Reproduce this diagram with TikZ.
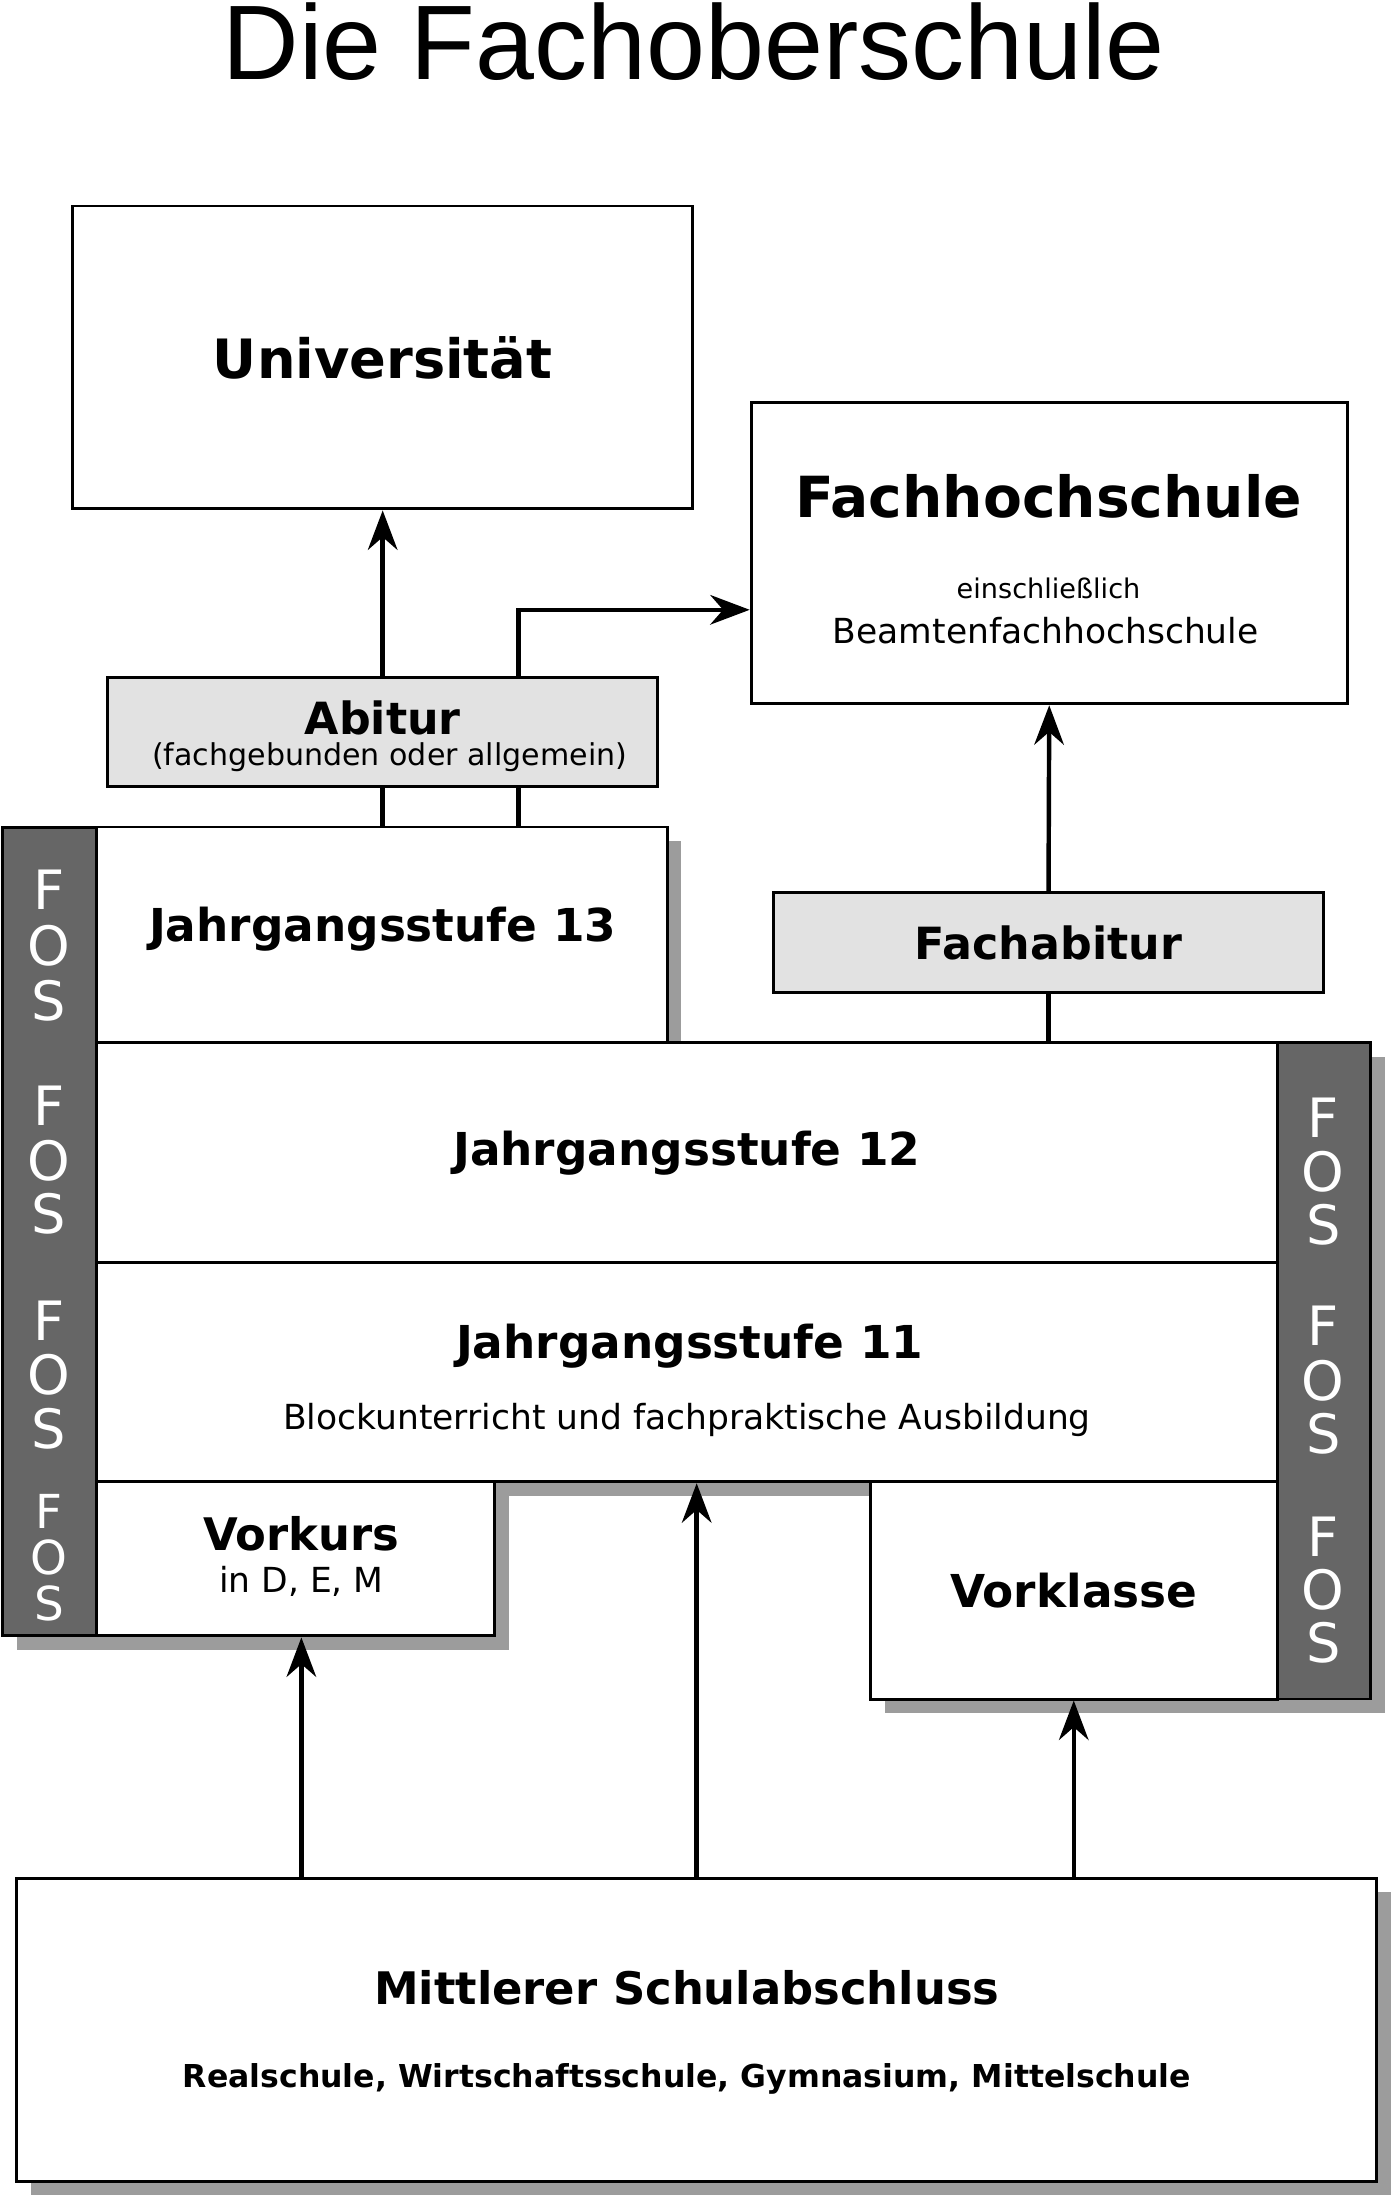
\documentclass[tikz,border=0pt]{standalone}
\usepackage{fontspec}
\setmainfont{DejaVu Sans}
\newfontfamily\titlefont{Liberation Sans}
\usetikzlibrary{arrows.meta}
\definecolor{boxgray}{HTML}{E2E2E2}
\definecolor{bargray}{HTML}{666666}
\definecolor{shadowgray}{HTML}{9C9C9C}
\tikzset{
    box/.style={draw, line width=0.6pt, fill=white, inner sep=0pt, align=center},
    graybox/.style={box, fill=boxgray},
    shadow/.style={fill=shadowgray, draw=none},
    bar/.style={fill=bargray, draw, line width=0.6pt},
    fos/.style={text=white, font=\fontsize{11}{11}\selectfont, inner sep=0pt},
    fossmall/.style={fos, font=\fontsize{9.5}{9.5}\selectfont},
    link/.style={line width=0.9pt},
    arr/.style={link, -{Stealth[length=8pt, width=6pt]}}
}
\begin{document}
\begin{tikzpicture}[x=0.01cm, y=-0.01cm]
    \useasboundingbox (0,0) rectangle (993,1568);
    \node (title) at (495,30) {\titlefont\fontsize{21.5}{22}\selectfont Die Fachoberschule};

    % shadows
    \fill[shadow] (12,600) rectangle (79,1177);
    \fill[shadow] (79,600) rectangle (486,1067);
    \fill[shadow] (79,754) rectangle (988,1067);
    \fill[shadow] (79,1067) rectangle (363,1177);
    \fill[shadow] (631,1067) rectangle (988,1222);
    \fill[shadow] (22,1350) rectangle (992,1566);

    % top boxes
    \node (uni) [box, minimum width=4.42cm, minimum height=2.16cm] at (273,255)
        {\fontsize{11}{13}\selectfont\bfseries Universität};
    \node (fh) [box, minimum width=4.25cm, minimum height=2.15cm] at (748.5,394.5) {};
    \node (fht) at (748,354) {\fontsize{11.5}{13}\selectfont\bfseries Fachhochschule};
    \node (fhs) at (748,420) {\fontsize{5.5}{7}\selectfont einschließlich};
    \node (fhb) at (746,450) {\fontsize{7}{9}\selectfont Beamtenfachhochschule};
    \node (abi) [graybox, minimum width=3.92cm, minimum height=0.78cm] at (273,522) {};
    \node (abit) at (273,512) {\fontsize{9}{10}\selectfont\bfseries Abitur};
    \node (abis) at (278,540) {\fontsize{6.1}{7}\selectfont (fachgebunden oder allgemein)};
    \node (fabi) [graybox, minimum width=3.92cm, minimum height=0.71cm] at (748,672.5)
        {\fontsize{9}{10}\selectfont\bfseries Fachabitur};

    % school block
    \node (j13) [box, minimum width=4.07cm, minimum height=1.54cm] at (272.5,667) {};
    \node (j13t) at (273,663) {\fontsize{9.2}{11}\selectfont\bfseries Jahrgangsstufe 13};
    \node (j12) [box, minimum width=8.42cm, minimum height=1.57cm] at (490,822.5)
        {\fontsize{9.2}{11}\selectfont\bfseries Jahrgangsstufe 12};
    \node (j11) [box, minimum width=8.42cm, minimum height=1.56cm] at (490,979) {};
    \node (j11t) at (492,960) {\fontsize{9.2}{11}\selectfont\bfseries Jahrgangsstufe 11};
    \node (j11s) at (490,1013) {\fontsize{7}{9}\selectfont Blockunterricht und fachpraktische Ausbildung};
    \node (vk) [box, minimum width=2.84cm, minimum height=1.10cm] at (211,1112) {};
    \node (vkt) at (215,1094) {\fontsize{9.1}{11}\selectfont\bfseries Vorkurs};
    \node (vks) at (215,1128) {\fontsize{7}{9}\selectfont in D, E, M};
    \node (vkl) [box, minimum width=2.90cm, minimum height=1.55cm] at (766,1134.5)
        {\fontsize{9.2}{11}\selectfont\bfseries Vorklasse};

    % FOS bars
    \draw[bar] (2,590) rectangle (69,1167);
    \draw[bar] (911,744) rectangle (978,1212);
    \foreach \y/\c in {635/F,675/O,714/S,789/F,828/O,866/S,942/F,981/O,1019/S}
        \node[fos] at (35,\y) {\c};
    \foreach \y/\c in {1078/F,1111/O,1144/S}
        \node[fossmall] at (35,\y) {\c};
    \foreach \y/\c in {797/F,836/O,874/S,946/F,985/O,1023/S,1096/F,1134/O,1172/S}
        \node[fos] at (944,\y) {\c};

    % bottom box
    \node (msa) [box, minimum width=9.70cm, minimum height=2.16cm] at (497,1448) {};
    \node (msat) at (490,1418) {\fontsize{9.1}{11}\selectfont\bfseries Mittlerer Schulabschluss};
    \node (msas) at (490,1483) {\fontsize{6.4}{8}\selectfont\bfseries Realschule, Wirtschaftsschule, Gymnasium, Mittelschule};

    % connectors
    \draw[arr] (abi.north) -- (uni.south);
    \draw[arr] (abi.north -| 370,0) |- (fh.west |- 0,435);
    \draw[link] (abi.south) -- (j13.north -| abi.south);
    \draw[link] (abi.south -| 370,0) -- (j13.north -| 370,0);
    \draw[arr] (fabi.north) -- (fh.south);
    \draw[link] (fabi.south) -- (j12.north -| fabi.south);
    \draw[arr] (msa.north -| 215,0) -- (vk.south -| 215,0);
    \draw[arr] (msa.north -| 497,0) -- (j11.south -| 497,0);
    \draw[arr] (msa.north -| vkl.south) -- (vkl.south);
\end{tikzpicture}
\end{document}
